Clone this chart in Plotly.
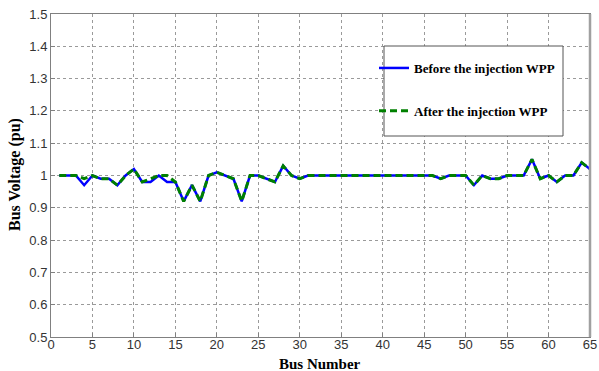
import plotly.graph_objects as go

bus = list(range(1, 66))
before = [1.00, 1.00, 1.00, 0.97, 1.00, 0.99, 0.99, 0.97, 1.00, 1.02,
          0.98, 0.98, 1.00, 0.98, 0.98, 0.92, 0.97, 0.92, 1.00, 1.01,
          1.00, 0.99, 0.92, 1.00, 1.00, 0.99, 0.98, 1.03, 1.00, 0.99,
          1.00, 1.00, 1.00, 1.00, 1.00, 1.00, 1.00, 1.00, 1.00, 1.00,
          1.00, 1.00, 1.00, 1.00, 1.00, 1.00, 0.99, 1.00, 1.00, 1.00,
          0.97, 1.00, 0.99, 0.99, 1.00, 1.00, 1.00, 1.05, 0.99, 1.00,
          0.98, 1.00, 1.00, 1.04, 1.02]
after = [1.00, 1.00, 1.00, 0.99, 1.00, 0.99, 0.99, 0.97, 1.00, 1.02,
         0.98, 0.99, 1.00, 1.00, 0.98, 0.92, 0.97, 0.92, 1.00, 1.01,
         1.00, 0.99, 0.92, 1.00, 1.00, 0.99, 0.98, 1.03, 1.00, 0.99,
         1.00, 1.00, 1.00, 1.00, 1.00, 1.00, 1.00, 1.00, 1.00, 1.00,
         1.00, 1.00, 1.00, 1.00, 1.00, 1.00, 0.99, 1.00, 1.00, 1.00,
         0.97, 1.00, 0.99, 0.99, 1.00, 1.00, 1.00, 1.05, 0.99, 1.00,
         0.98, 1.00, 1.00, 1.04, 1.02]

x_ticks = list(range(0, 70, 5))
y_ticks = [0.5, 0.6, 0.7, 0.8, 0.9, 1.0, 1.1, 1.2, 1.3, 1.4, 1.5]
y_tick_labels = ["0.5", "0.6", "0.7", "0.8", "0.9", "1", "1.1", "1.2", "1.3", "1.4", "1.5"]
series_names = ["Before the injection WPP", "After the injection WPP"]
x_title = "Bus Number"
y_title = "Bus Voltage (pu)"

fig = go.Figure()
fig.add_trace(go.Scatter(x=bus, y=before, mode="lines", name=series_names[0],
                         legendgroup="a",
                         line=dict(color="#0000ff", width=2.5)))
fig.add_trace(go.Scatter(x=bus, y=after, mode="lines", name=series_names[1],
                         legendgroup="b",
                         line=dict(color="#008000", width=3, dash="7px,4px")))

axis_common = dict(
    showline=True, linecolor="#808080", linewidth=1, mirror=True,
    showgrid=True, gridcolor="#9a9a9a", griddash="dot", gridwidth=1,
    ticks="inside", ticklen=4, tickcolor="#808080",
    tickfont=dict(family="Liberation Sans, Arial", size=13, color="#333333"),
    zeroline=False, automargin=False,
)

title_font = dict(family="Liberation Serif, Times New Roman", size=16,
                  color="black", weight="bold")

fig.update_layout(
    width=599, height=371,
    margin=dict(l=51, r=9, t=14, b=34),
    paper_bgcolor="white", plot_bgcolor="white",
    xaxis=dict(range=[0, 65], tickvals=x_ticks, ticklabelstandoff=-5, **axis_common),
    yaxis=dict(range=[0.5, 1.5], tickvals=y_ticks, ticktext=y_tick_labels, **axis_common),
    legend=dict(x=(374 - 51) / 539, y=1 - (53 - 14) / 323, xanchor="left", yanchor="top",
                bgcolor="rgba(0,0,0,0)", borderwidth=0,
                traceorder="grouped", tracegroupgap=23,
                font=dict(family="Liberation Serif, Times New Roman", size=13,
                          color="black", weight="bold"),
                itemwidth=30),
    annotations=[
        dict(text=x_title, xref="paper", yref="paper",
             x=(320 - 51) / 539, y=-(374 - 337) / 323,
             xanchor="center", yanchor="bottom", showarrow=False,
             font=dict(title_font, size=15)),
        dict(text=y_title, xref="paper", yref="paper",
             x=(15 - 51) / 539, y=1 - (175 - 14) / 323,
             xanchor="center", yanchor="middle", showarrow=False,
             textangle=-90, font=title_font),
    ],
    shapes=[
        dict(type="rect", xref="paper", yref="paper",
             x0=(384 - 51) / 539, x1=(563 - 51) / 539,
             y0=1 - (136 - 14) / 323, y1=1 - (46 - 14) / 323,
             line=dict(color="#555555", width=1), fillcolor="white", layer="above"),
        dict(type="line", xref="paper", yref="paper", x0=1, x1=1, y0=0, y1=1,
             line=dict(color="#a0a0a0", width=2.5), layer="above"),
    ],
)

fig.write_html("out.html")
